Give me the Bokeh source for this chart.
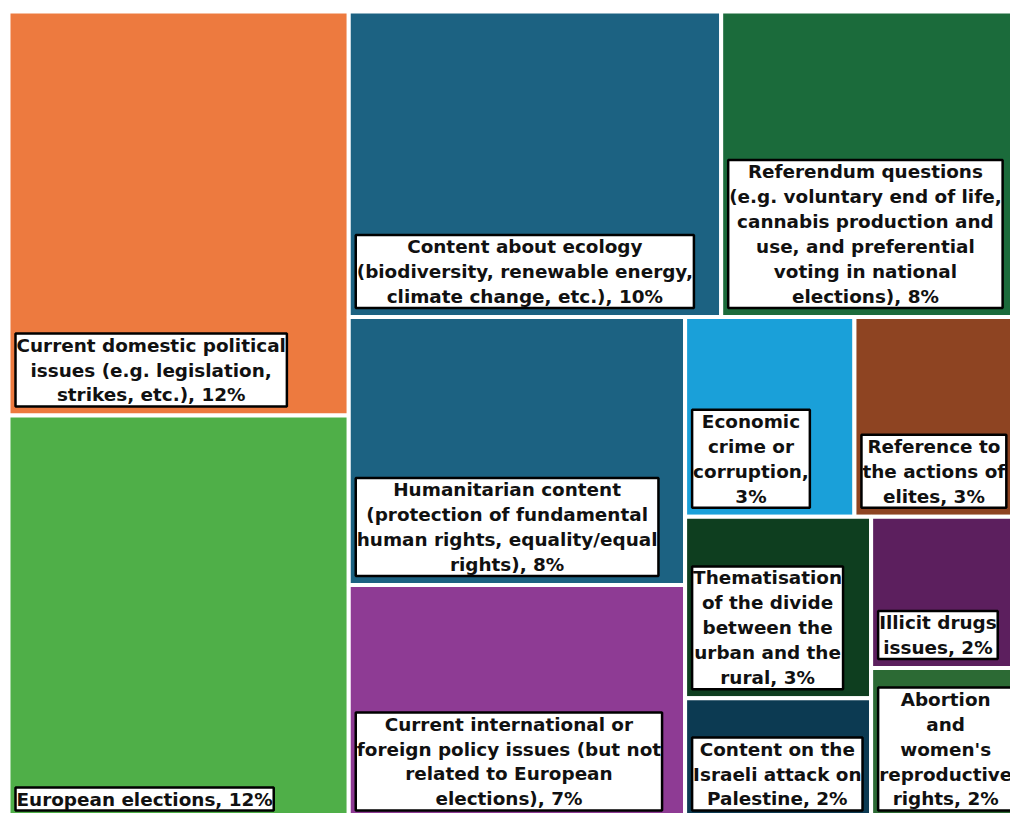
from bokeh.plotting import figure
from bokeh.models import ColumnDataSource, Range1d
from bokeh.core.properties import value
from bokeh.embed import file_html
from bokeh.resources import INLINE

# ---------------- data ----------------
names = [
    "Current domestic political\nissues (e.g. legislation,\nstrikes, etc.)",
    "European elections",
    "Content about ecology\n(biodiversity, renewable energy,\nclimate change, etc.)",
    "Referendum questions\n(e.g. voluntary end of life,\ncannabis production and\nuse, and preferential\nvoting in national\nelections)",
    "Humanitarian content\n(protection of fundamental\nhuman rights, equality/equal\nrights)",
    "Current international or\nforeign policy issues (but not\nrelated to European\nelections)",
    "Economic\ncrime or\ncorruption,\n",
    "Reference to\nthe actions of\nelites",
    "Thematisation\nof the divide\nbetween the\nurban and the\nrural",
    "Content on the\nIsraeli attack on\nPalestine",
    "Illicit drugs\nissues",
    "Abortion\nand\nwomen's\nreproductive\nrights",
]
shares = [12.2, 12.2, 10.1, 7.9, 8.0, 7.0, 3.0, 2.8, 3.0, 2.0, 1.9, 1.9]
colors = ["#ED7A3F", "#4FAF48", "#1C6282", "#1B6B3B", "#1C6282", "#8E3B94",
          "#1AA0D9", "#8E4422", "#0E3E1F", "#0C3A52", "#5C1F5E", "#2C6A34"]


# ---------------- squarified treemap layout ----------------
def squarify(vals, x, y, w, h):
    rects = []
    i, n = 0, len(vals)
    while i < n:
        rem = sum(vals[i:])
        scale = w * h / rem
        short = min(w, h)

        def worst(row):
            thick = sum(row) * scale / short
            r = 0
            for v in row:
                side = v * scale / thick
                r = max(r, thick / side, side / thick)
            return r

        row = [vals[i]]
        j = i + 1
        while j < n and worst(row + [vals[j]]) <= worst(row):
            row.append(vals[j])
            j += 1
        thick = sum(row) * scale / short
        if w >= h:
            yy = y
            for v in row:
                hh = v * scale / thick
                rects.append((x, yy, thick, hh))
                yy += hh
            x += thick
            w -= thick
        else:
            xx = x
            for v in row:
                ww = v * scale / thick
                rects.append((xx, y, ww, thick))
                xx += ww
            y += thick
            h -= thick
        i = j
    return rects


W, H = 1010, 813
rects = squarify(shares, 8, 11, 1004, 808)

left = [r[0] for r in rects]
right = [r[0] + r[2] for r in rects]
top = [r[1] for r in rects]
bottom = [r[1] + r[3] for r in rects]

labels = []
for nm, s in zip(names, shares):
    if nm.endswith(",\n"):
        labels.append(nm + f"{round(s)}%")
    else:
        labels.append(nm + f", {round(s)}%")

src = ColumnDataSource(dict(left=left, right=right, top=top, bottom=bottom,
                            color=colors, label=labels,
                            lx=[l + 7 for l in left], ly=[b - 9 for b in bottom]))

p = figure(width=W, height=H, output_backend="svg", toolbar_location=None,
           x_range=Range1d(0, W), y_range=Range1d(H, 0),
           min_border=0, x_axis_location=None, y_axis_location=None)
p.grid.visible = False
p.outline_line_color = None
p.background_fill_color = "white"
p.border_fill_color = "white"

p.quad(left="left", right="right", top="top", bottom="bottom", source=src,
       fill_color="color", line_color="white", line_width=4)

p.text(x="lx", y="ly", text="label", source=src,
       anchor="bottom_left", text_align="center",
       text_font=value("DejaVu Sans"), text_font_style="bold",
       text_font_size="18.4px", text_line_height=1.19, text_color="#111111",
       background_fill_color="white", border_line_color="black",
       border_line_width=2.5, padding=1)

open("out.html", "w").write(file_html(p, INLINE))
